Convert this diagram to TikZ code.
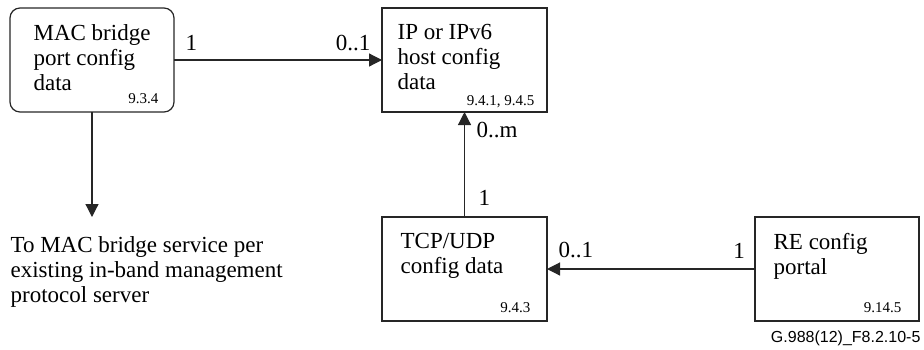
\documentclass[tikz,border=0pt]{standalone}
\usepackage{fontspec}
\setmainfont{Liberation Serif}
\newfontfamily\figfont{Liberation Sans}
\usetikzlibrary{arrows.meta,positioning}

\begin{document}
\begin{tikzpicture}[
    x=0.5pt, y=-0.5pt,
    font=\fontsize{11.5}{12.5}\selectfont,
    line width=0.6pt, draw=black!85,
    >={Triangle[length=6.5pt,width=6.5pt]}, % arrow tips
    cfgbox/.style={draw=black!85, inner sep=0pt, outer sep=0pt,
        minimum width=82pt, minimum height=52pt},
    boxtext/.style={anchor=north west, inner sep=0pt, align=left},
    clause/.style={anchor=base east, inner sep=0pt,
        font=\fontsize{7.5}{9}\selectfont},
    mult/.style={inner sep=0pt}
    ]
    \useasboundingbox (0,0) rectangle (924,349);

    % config boxes
    \node[cfgbox, rounded corners=5pt] (mac) at (92,60) {};
    \node[cfgbox, minimum width=82.5pt] (ip) at (464.5,60) {};
    \node[cfgbox, minimum width=82.5pt] (tcp) at (464.5,269) {};
    \node[cfgbox] (re) at (837,269) {};

    % box texts
    \node[boxtext] (mactext) at ([xshift=11.5pt,yshift=-8pt]mac.north west)
        {MAC bridge\\port config\\data};
    \node[boxtext] (iptext) at ([xshift=7.5pt,yshift=-8pt]ip.north west)
        {IP or IPv6\\host config\\data};
    \node[boxtext] (tcptext) at ([xshift=9pt,yshift=-8pt]tcp.north west)
        {TCP/UDP\\config data};
    \node[boxtext] (retext) at ([xshift=9pt,yshift=-8pt]re.north west)
        {RE config\\portal};

    % clause numbers
    \node[clause] (macno) at ([xshift=-7.5pt,yshift=4.5pt]mac.south east) {9.3.4};
    \node[clause] (ipno) at ([xshift=-6pt,yshift=3.5pt]ip.south east) {9.4.1, 9.4.5};
    \node[clause] (tcpno) at ([xshift=-8pt,yshift=4.5pt]tcp.south east) {9.4.3};
    \node[clause] (reno) at ([xshift=-8.5pt,yshift=4.5pt]re.south east) {9.14.5};

    % connectors
    \coordinate (macout) at (92,217);
    \draw[->] (mac.east) -- (ip.west);
    \draw[->] (mac.south) -- (macout);
    \draw[->] (tcp.north) -- (ip.south);
    \draw[->] (re.west) -- (tcp.east);

    % multiplicities
    \node[mult, anchor=base west] (macone) at (185,50) {1};
    \node[mult, anchor=base east] (ipzo) at (371,50) {0..1};
    \node[mult, anchor=base west] (ipzm) at (476,137) {0..m};
    \node[mult, anchor=base west] (tcpone) at (478,205) {1};
    \node[mult, anchor=base west] (tcpzo) at (558,257) {0..1};
    \node[mult, anchor=base] (reone) at (739,258) {1};

    % free texts
    \node[anchor=north west, inner sep=0pt, align=left] (service) at (10,236)
        {To MAC bridge service per\\existing in-band management\\protocol server};
    \node[anchor=base east, inner sep=0pt, font=\figfont\fontsize{8}{9}\selectfont]
        (figno) at (921,342) {G.988(12)\_F8.2.10-5};
\end{tikzpicture}
\end{document}
